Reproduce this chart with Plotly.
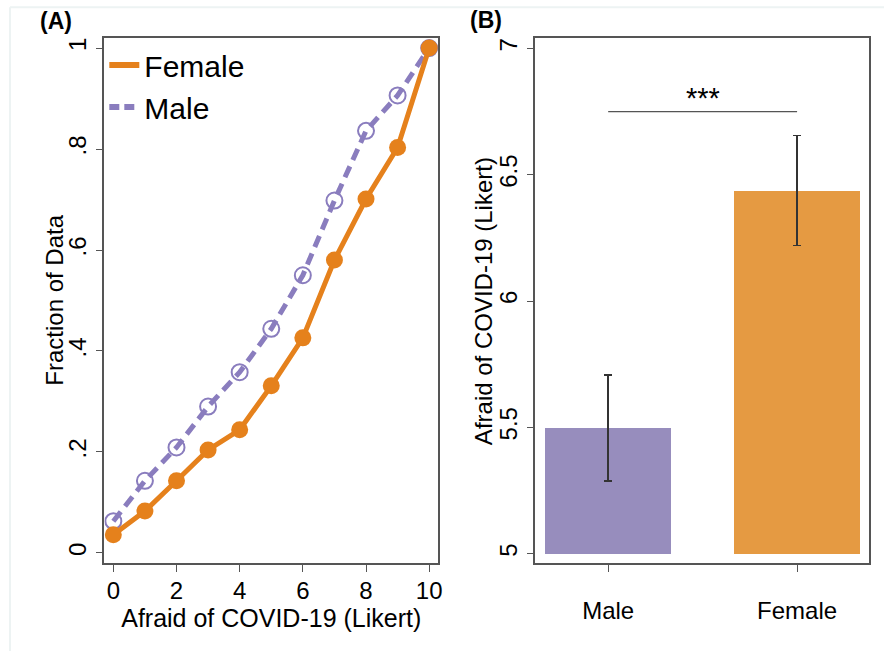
import plotly.graph_objects as go

# Panel A data
likert = [0, 1, 2, 3, 4, 5, 6, 7, 8, 9, 10]
female_cdf = [0.036, 0.083, 0.143, 0.204, 0.244, 0.331, 0.426, 0.580, 0.701, 0.803, 1.0]
male_cdf = [0.063, 0.143, 0.209, 0.290, 0.358, 0.444, 0.550, 0.698, 0.836, 0.906, 1.0]
a_yticks = [0, 0.2, 0.4, 0.6, 0.8, 1.0]
a_yticklabels = ["0", ".2", ".4", ".6", ".8", "1"]
a_xticks = [0, 2, 4, 6, 8, 10]

# Panel B data
groups = ["Male", "Female"]
group_pos = [0, 1]
means = [5.498, 6.437]
ci = [0.210, 0.218]
b_yticks = [5, 5.5, 6, 6.5, 7]
b_yticklabels = ["5", "5.5", "6", "6.5", "7"]
sig_label = "***"
sig_y = 6.75

ORANGE = "#E5811C"
PURPLE = "#8A7DBE"
BAR_ORANGE = "#E59A42"
BAR_PURPLE = "#978DBD"
FONT = "Liberation Sans, Arial, Helvetica, sans-serif"

fig = go.Figure()

# Panel A lines (male beneath female)
fig.add_trace(go.Scatter(
    x=likert, y=male_cdf, mode="lines+markers", showlegend=False,
    line=dict(color=PURPLE, width=5, dash="12px,7px"),
    marker=dict(symbol="circle-open", size=16, color=PURPLE, line=dict(width=2)),
    xaxis="x", yaxis="y"))
fig.add_trace(go.Scatter(
    x=likert, y=female_cdf, mode="lines+markers", showlegend=False,
    line=dict(color=ORANGE, width=5),
    marker=dict(symbol="circle", size=17, color=ORANGE),
    xaxis="x", yaxis="y"))
# legend entries (line only)
fig.add_trace(go.Scatter(x=[None], y=[None], mode="lines", name="Female",
                         line=dict(color=ORANGE, width=6), xaxis="x", yaxis="y"))
fig.add_trace(go.Scatter(x=[None], y=[None], mode="lines", name="Male",
                         line=dict(color=PURPLE, width=6, dash="10px,5px"), xaxis="x", yaxis="y"))

# Panel B bars
fig.add_trace(go.Bar(
    x=group_pos, y=[m - 5 for m in means], base=5, width=0.668,
    marker=dict(color=[BAR_PURPLE, BAR_ORANGE], line=dict(width=0)),
    error_y=dict(type="data", array=ci, color="#333333", thickness=1.5, width=4),
    showlegend=False, xaxis="x2", yaxis="y2"))

ax_common = dict(showline=True, linecolor="#555555", linewidth=1.5, mirror=True,
                 ticks="outside", ticklen=7, tickcolor="#555555", tickwidth=1.2,
                 showgrid=False, zeroline=False,
                 tickfont=dict(size=24, color="black", family=FONT))

fig.update_layout(
    width=888, height=651,
    margin=dict(l=0, r=0, t=0, b=0),
    paper_bgcolor="white", plot_bgcolor="white",
    font=dict(family=FONT, color="black"),
    xaxis=dict(domain=[0.1182, 0.4955], range=[-0.28, 10.28], tickvals=a_xticks,
               ticklabelstandoff=-2,
               title=dict(text="Afraid of COVID-19 (Likert)", font=dict(size=25), standoff=2),
               anchor="y", **ax_common),
    yaxis=dict(domain=[0.1352, 0.9416], range=[-0.0198, 1.0198], tickvals=a_yticks,
               ticktext=a_yticklabels, tickangle=-90,
               anchor="x", **ax_common),
    xaxis2=dict(domain=[0.6055, 0.9831], range=[-0.386, 1.381], tickvals=group_pos,
                ticktext=groups, anchor="y2", ticklabelstandoff=18, **ax_common),
    yaxis2=dict(domain=[0.1352, 0.9416], range=[4.963, 7.041], tickvals=b_yticks,
                ticktext=b_yticklabels, tickangle=-90,
                anchor="x2", **ax_common),
    legend=dict(x=0.118, y=0.94, xanchor="left", yanchor="top",
                bgcolor="rgba(0,0,0,0)", font=dict(size=30, color="black"),
                tracegroupgap=0, itemwidth=30),
    bargap=0,
)

# y-axis titles
fig.add_annotation(xref="paper", yref="paper", x=0.0619, y=0.5392, xanchor="center", yanchor="middle",
                   text="Fraction of Data", textangle=-90, showarrow=False, font=dict(size=24))
fig.add_annotation(xref="paper", yref="paper", x=0.5465, y=0.5376, xanchor="center", yanchor="middle",
                   text="Afraid of COVID-19 (Likert)", textangle=-90, showarrow=False, font=dict(size=24))

# significance bracket
fig.add_shape(type="line", xref="x2", yref="y2", x0=group_pos[0], x1=group_pos[1],
              y0=sig_y, y1=sig_y, line=dict(color="#555555", width=1.2))
fig.add_annotation(xref="x2", yref="y2", x=(group_pos[0] + group_pos[1]) / 2, y=sig_y,
                   text=sig_label, showarrow=False, yanchor="bottom", yshift=-4,
                   font=dict(size=29, color="black"))

# panel labels
fig.add_annotation(xref="paper", yref="paper", x=0.043, y=0.968, xanchor="left", yanchor="middle",
                   text="<b>(A)</b>", showarrow=False, font=dict(size=23))
fig.add_annotation(xref="paper", yref="paper", x=0.529, y=0.970, xanchor="left", yanchor="middle",
                   text="<b>(B)</b>", showarrow=False, font=dict(size=23))

# faint outer frame
fig.add_shape(type="line", xref="paper", yref="paper", x0=0.0113, x1=1, y0=0.989, y1=0.989,
              line=dict(color="#EDF3F3", width=2))
fig.add_shape(type="line", xref="paper", yref="paper", x0=0.0113, x1=0.0113, y0=0, y1=0.989,
              line=dict(color="#EDF3F3", width=2))

fig.write_html("out.html")
